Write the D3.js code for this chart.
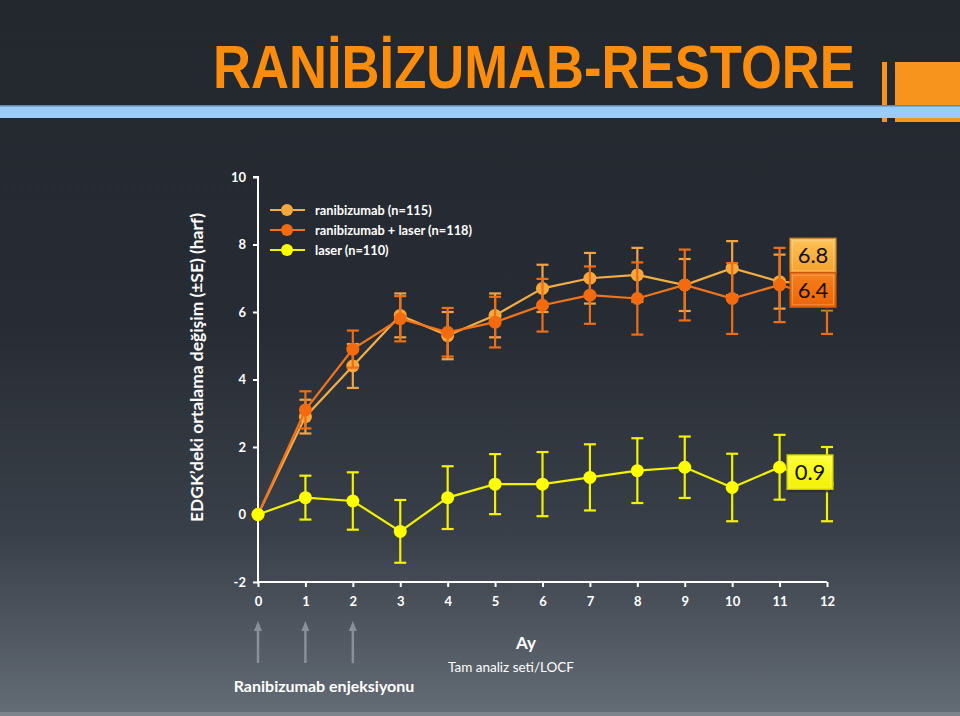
<!DOCTYPE html>
<html><head><meta charset="utf-8">
<script src="https://cdn.jsdelivr.net/npm/d3@7"></script>
<style>body{margin:0;background:#22272f}svg{display:block}</style>
</head><body>
<script>
// ---- data ----
const months = [0,1,2,3,4,5,6,7,8,9,10,11,12];
const xTicks = [0,1,2,3,4,5,6,7,8,9,10,11,12];
const yTicks = [-2,0,2,4,6,8,10];
const ranibizumab   = [0,2.9,4.4,5.9,5.3,5.9,6.7,7.0,7.1,6.8,7.3,6.9,6.8];
const ranibizumabSE = [0,0.5,0.65,0.65,0.7,0.65,0.7,0.75,0.8,0.77,0.8,0.8,0.75];
const combo         = [0,3.1,4.9,5.8,5.4,5.7,6.2,6.5,6.4,6.8,6.4,6.8,6.4];
const comboSE       = [0,0.55,0.55,0.67,0.72,0.75,0.78,0.85,1.07,1.05,1.05,1.1,1.05];
const laser         = [0,0.5,0.4,-0.5,0.5,0.9,0.9,1.1,1.3,1.4,0.8,1.4,0.9];
const laserSE       = [0,0.65,0.85,0.93,0.93,0.89,0.95,0.98,0.96,0.91,1.0,0.96,1.1];
const seriesNames = ["ranibizumab (n=115)","ranibizumab + laser (n=118)","laser (n=110)"];
const endLabels = ["6.8","6.4","0.9"];
const injectionMonths = [0,1,2];

const title = "RANİBİZUMAB-RESTORE";
const yLabel = "EDGK\u2019deki ortalama değişim (±SE) (harf)";

// ---- setup ----
const W=960,H=716;
const svg=d3.select("body").append("svg").attr("width",W).attr("height",H)
  .style("font-family","Lato, 'Open Sans', sans-serif");
const defs=svg.append("defs");
const bg=defs.append("linearGradient").attr("id","bg").attr("x1",0).attr("y1",0).attr("x2",0).attr("y2",1);
[[0,"#23282f"],[0.45,"#272c34"],[0.75,"#3a4049"],[1,"#646c76"]].forEach(s=>bg.append("stop").attr("offset",s[0]).attr("stop-color",s[1]));
svg.append("rect").attr("width",W).attr("height",H).attr("fill","url(#bg)");
svg.append("rect").attr("x",0).attr("y",712).attr("width",W).attr("height",4).attr("fill","#7d848c");

// header decoration
svg.append("rect").attr("x",882).attr("y",62).attr("width",5).attr("height",60).attr("fill","#f7941d");
svg.append("rect").attr("x",895).attr("y",62).attr("width",65).attr("height",60).attr("fill","#f7941d");
svg.append("rect").attr("x",0).attr("y",106).attr("width",W).attr("height",12).attr("fill","#9bcbf7");
svg.append("rect").attr("x",0).attr("y",105).attr("width",W).attr("height",1.5).attr("fill","#5f87ad");
const tt=svg.append("text").attr("x",0).attr("y",0).text(title)
  .attr("font-family","'Liberation Sans',Arial,sans-serif")
  .attr("font-weight","bold").attr("font-size",62).attr("fill","#fb8c0c");
const tw=tt.node().getComputedTextLength();
tt.attr("transform",`translate(213,88) scale(${642/tw},1)`);

// ---- scales ----
const x=d3.scaleLinear().domain([0,12]).range([258,827]);
const y=d3.scaleLinear().domain([-2,10]).range([582,177]);

// axes
const gy=svg.append("g").attr("transform",`translate(${x(0)},0)`)
  .call(d3.axisLeft(y).tickValues(yTicks).tickSize(5).tickPadding(7).tickFormat(d=>String(d)));
const gx=svg.append("g").attr("transform",`translate(0,${y(-2)})`)
  .call(d3.axisBottom(x).tickValues(xTicks).tickSize(5).tickPadding(10).tickFormat(d=>String(d)));
[gx,gy].forEach(g=>{
  g.select(".domain").attr("stroke","#ffffff").attr("stroke-width",2);
  g.selectAll(".tick line").attr("stroke","#ffffff").attr("stroke-width",2);
  g.selectAll(".tick text").attr("fill","#ffffff").attr("font-size",13).attr("font-weight","bold")
    .attr("font-family","Lato, sans-serif");
});
gy.select(".domain").attr("d",`M-5,${y(10)}H0V${y(-2)}`);
gx.select(".domain").attr("d",`M${x(0)},0H${x(12)}`);

// y label
svg.append("text").attr("transform",`translate(203,${(213+522)/2}) rotate(-90)`)
  .attr("text-anchor","middle").attr("fill","#ffffff").attr("font-weight","bold").attr("font-size",17.5)
  .attr("textLength",309).attr("lengthAdjust","spacingAndGlyphs").text(yLabel);

// ---- series ----
const series=[
  {name:seriesNames[0],vals:ranibizumab,se:ranibizumabSE,line:"#f3ad45",dot:"#f7a73c",err:"#f0a445"},
  {name:seriesNames[1],vals:combo,se:comboSE,line:"#f2741a",dot:"#f46a0e",err:"#ee6e16"},
  {name:seriesNames[2],vals:laser,se:laserSE,line:"#f2f200",dot:"#ffff00",err:"#f2f200"}
];
const line=d3.line().x(d=>x(d.m)).y(d=>y(d.v));
series.forEach(s=>{
  const pts=months.map((m,i)=>({m,v:s.vals[i],se:s.se[i]}));
  const g=svg.append("g");
  const eb=g.selectAll("g.eb").data(pts.filter(p=>p.se>0)).join("g");
  eb.append("line").attr("x1",d=>x(d.m)).attr("x2",d=>x(d.m)).attr("y1",d=>y(d.v+d.se)).attr("y2",d=>y(d.v-d.se))
    .attr("stroke",s.err).attr("stroke-width",2.2);
  [1,-1].forEach(sg=>eb.append("line").attr("x1",d=>x(d.m)-6).attr("x2",d=>x(d.m)+6)
    .attr("y1",d=>y(d.v+sg*d.se)).attr("y2",d=>y(d.v+sg*d.se)).attr("stroke",s.err).attr("stroke-width",2.2));
  g.append("path").attr("d",line(pts)).attr("fill","none").attr("stroke",s.line).attr("stroke-width",2.2);
  g.selectAll("circle").data(pts).join("circle").attr("cx",d=>x(d.m)).attr("cy",d=>y(d.v)).attr("r",6.5).attr("fill",s.dot);
});

// legend
series.forEach((s,i)=>{
  const ly=210+i*20;
  svg.append("line").attr("x1",270).attr("x2",305).attr("y1",ly).attr("y2",ly).attr("stroke",s.line).attr("stroke-width",2.2);
  svg.append("circle").attr("cx",287).attr("cy",ly).attr("r",6).attr("fill",s.dot);
  svg.append("text").attr("x",315).attr("y",ly+4.5).attr("fill","#ffffff").attr("font-size",12.8).attr("font-weight","bold").text(s.name);
});

// end value boxes
function grad(id,c1,c2){const g=defs.append("linearGradient").attr("id",id).attr("x1",0).attr("y1",0).attr("x2",0).attr("y2",1);
  g.append("stop").attr("offset",0).attr("stop-color",c1);g.append("stop").attr("offset",1).attr("stop-color",c2);}
grad("gA","#fcc356","#f5a12c");grad("gB","#f8801e","#ec6405");grad("gC","#ffff3a","#f0f000");
const bw=46,bh=34.5;
const last=months.length-1;
const yB=y(combo[last])-8.5;
const boxes=[
  {t:endLabels[0],cx:x(12)-14,cy:yB-bh,f:"url(#gA)",st:"#d4862a"},
  {t:endLabels[1],cx:x(12)-14,cy:yB,f:"url(#gB)",st:"#c45508"},
  {t:endLabels[2],cx:x(12)-17,cy:y(laser[last])-12,f:"url(#gC)",st:"#c8c800"}
];
boxes.forEach(b=>{
  svg.append("rect").attr("x",b.cx-bw/2+1).attr("y",b.cy+bh/2).attr("width",bw-2).attr("height",3).attr("fill","#2a2f36").attr("opacity",0.8);
  svg.append("rect").attr("x",b.cx-bw/2).attr("y",b.cy-bh/2).attr("width",bw).attr("height",bh).attr("fill",b.f).attr("stroke",b.st).attr("stroke-width",1.2);
  svg.append("rect").attr("x",b.cx-bw/2+2.5).attr("y",b.cy-bh/2+2.5).attr("width",bw-5).attr("height",bh-5).attr("fill","none").attr("stroke","#ffffff").attr("stroke-opacity",0.25).attr("stroke-width",1);
  svg.append("text").attr("x",b.cx).attr("y",b.cy+7.5).attr("text-anchor","middle").attr("font-size",22)
    .attr("font-family","Lato, 'Open Sans', sans-serif").attr("fill","#111").text(b.t);
});

// injection arrows
defs.append("marker").attr("id","ah").attr("viewBox","0 0 10 10").attr("refX",5).attr("refY",5)
  .attr("markerWidth",4).attr("markerHeight",4).attr("orient","auto")
  .append("path").attr("d","M0,1L10,5L0,9Z").attr("fill","#8a9097");
injectionMonths.forEach(m=>{
  svg.append("line").attr("x1",x(m)).attr("x2",x(m)).attr("y1",663).attr("y2",626)
    .attr("stroke","#8a9097").attr("stroke-width",2.5).attr("marker-end","url(#ah)");
});
svg.append("text").attr("x",324).attr("y",692).attr("text-anchor","middle").attr("fill","#ffffff")
  .attr("font-size",16).attr("font-weight","bold").text("Ranibizumab enjeksiyonu");
svg.append("text").attr("x",526).attr("y",649).attr("text-anchor","middle").attr("fill","#ffffff")
  .attr("font-size",17).attr("font-weight","bold").text("Ay");
svg.append("text").attr("x",511).attr("y",672).attr("text-anchor","middle").attr("fill","#ffffff")
  .attr("font-size",13.5).text("Tam analiz seti/LOCF");
</script>
</body></html>
